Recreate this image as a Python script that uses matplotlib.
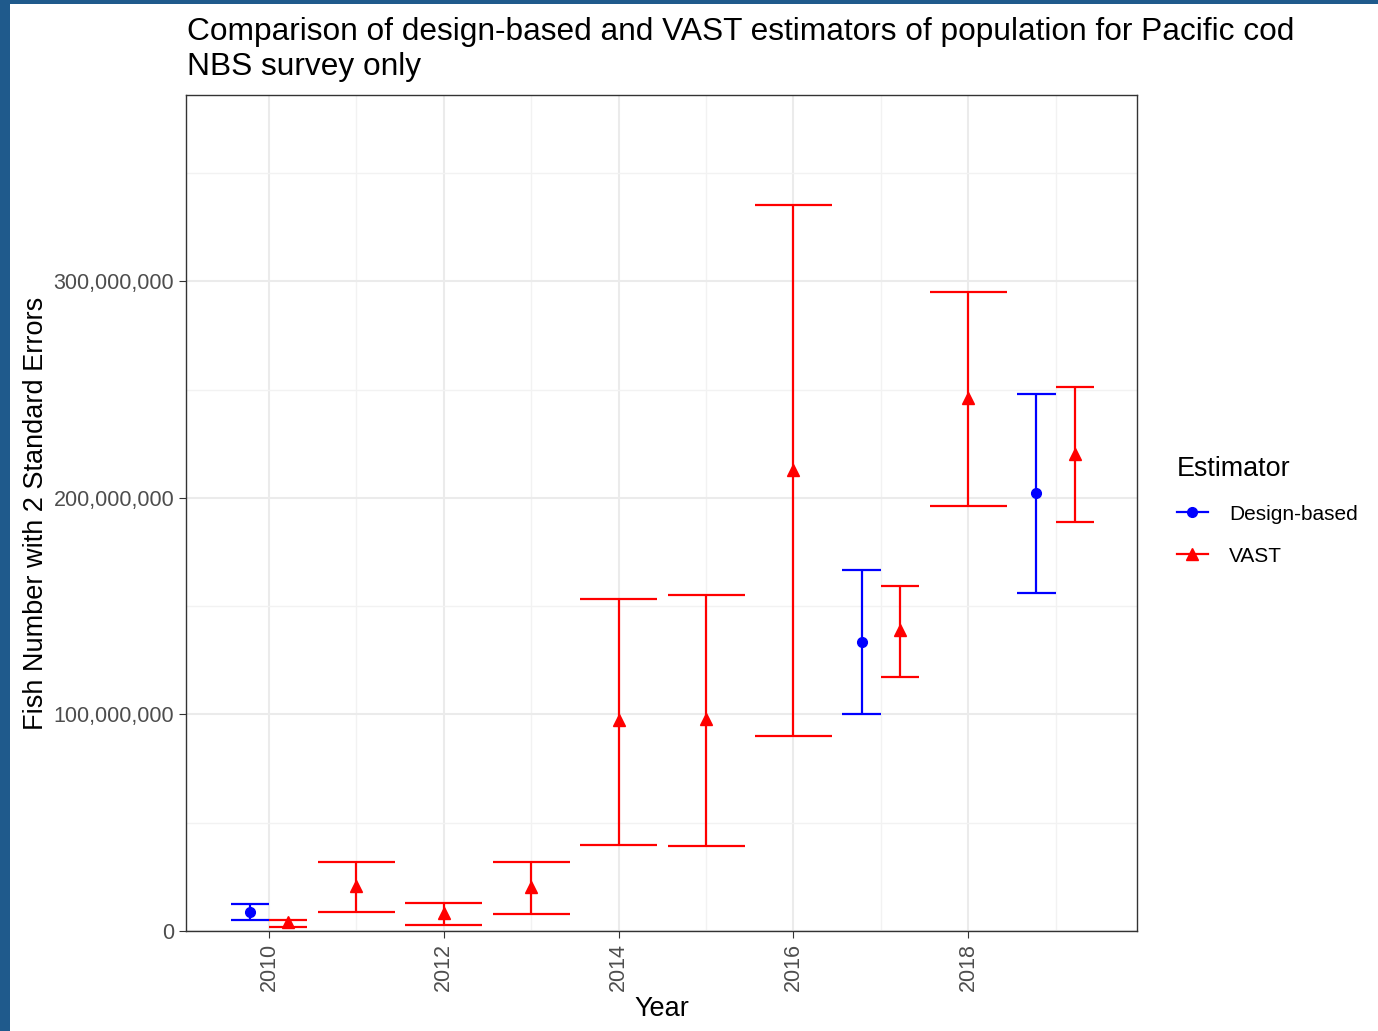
import matplotlib
matplotlib.use("Agg")
import matplotlib.pyplot as plt
from matplotlib.patches import Rectangle
from matplotlib.lines import Line2D
from matplotlib.ticker import FuncFormatter, MultipleLocator
import numpy as np

plt.rcParams['font.family'] = ['Liberation Sans', 'DejaVu Sans']

# values in millions of fish
design_years = [2010, 2017, 2019]
design_est = [8.8, 133.4, 202.2]
design_lo = [5.1, 100.2, 156.0]
design_hi = [12.5, 166.6, 247.8]

vast_years = [2010, 2011, 2012, 2013, 2014, 2015, 2016, 2017, 2018, 2019]
vast_est = [4.0, 20.8, 8.3, 20.3, 97.4, 97.8, 212.8, 138.9, 246.0, 220.2]
vast_lo = [1.8, 8.8, 2.8, 7.8, 39.7, 39.2, 90.0, 117.2, 196.2, 188.8]
vast_hi = [5.0, 31.8, 12.9, 31.8, 153.2, 155.1, 335.1, 159.2, 294.9, 251.1]

fig = plt.figure(figsize=(13.78, 10.31), dpi=100, facecolor='#1f5a8c')
bg = Rectangle((10/1378, 0), 1, 1 - 4/1031, transform=fig.transFigure,
               facecolor='white', edgecolor='none', zorder=-10)
fig.patches.append(bg)
ax = fig.add_axes([186/1378, 100/1031, (1137-186)/1378, (931-95)/1031])

width = 0.88
shared = set(design_years) & set(vast_years)

def draw(years, est, lo, hi, color, marker, ms, side):
    x = []
    w = []
    for yr in years:
        if yr in shared:
            x.append(yr + side * width / 4)
            w.append(width / 2)
        else:
            x.append(yr)
            w.append(width)
    x = np.array(x)
    w = np.array(w)
    est = np.array(est) * 1e6
    lo = np.array(lo) * 1e6
    hi = np.array(hi) * 1e6
    ax.vlines(x, lo, hi, color=color, lw=1.6, zorder=3)
    ax.hlines(lo, x - w/2, x + w/2, color=color, lw=1.6, zorder=3)
    ax.hlines(hi, x - w/2, x + w/2, color=color, lw=1.6, zorder=3)
    ax.plot(x, est, ls='none', marker=marker, color=color, ms=ms, zorder=4)

draw(design_years, design_est, design_lo, design_hi, 'blue', 'o', 7, -1)
draw(vast_years, vast_est, vast_lo, vast_hi, 'red', '^', 8.5, 1)

ax.set_xlim(2009.05, 2019.93)
ax.set_ylim(0, 386e6)
ax.xaxis.set_major_locator(MultipleLocator(2))
ax.xaxis.set_minor_locator(MultipleLocator(1))
ax.yaxis.set_major_locator(MultipleLocator(100e6))
ax.yaxis.set_minor_locator(MultipleLocator(50e6))
ax.yaxis.set_major_formatter(FuncFormatter(lambda v, p: f"{int(v):,}"))
ax.grid(which='major', color='#ebebeb', lw=1.5, zorder=0)
ax.grid(which='minor', color='#f2f2f2', lw=1.0, zorder=0)
ax.set_axisbelow(True)
for s in ax.spines.values():
    s.set_color('#333333')
    s.set_linewidth(1.0)
ax.tick_params(which='major', length=5, color='#333333', labelcolor='#4d4d4d', labelsize=15.5)
ax.tick_params(which='minor', length=0)
plt.setp(ax.get_xticklabels(), rotation=90)

ax.set_xlabel('Year', fontsize=19.5, labelpad=4)
ax.set_ylabel('Fish Number with 2 Standard Errors', fontsize=19.5, labelpad=3)

fig.text(187/1378, 1 - 17/1031,
         'Comparison of design-based and VAST estimators of population for Pacific cod\nNBS survey only',
         fontsize=22.8, va='top', ha='left', linespacing=1.2)

handles = [Line2D([], [], color='blue', marker='o', ms=7, lw=1.6),
           Line2D([], [], color='red', marker='^', ms=8.5, lw=1.6)]
leg = fig.legend(handles, ['Design-based', 'VAST'], title='Estimator',
                 loc='upper left', bbox_to_anchor=(1158/1378, 1 - 437/1031),
                 frameon=False, fontsize=15, title_fontsize=19.4,
                 handlelength=1.5, labelspacing=1.1, handletextpad=1.0)
leg._legend_box.align = 'left'

fig.savefig('out.png', dpi=100, facecolor=fig.get_facecolor())
